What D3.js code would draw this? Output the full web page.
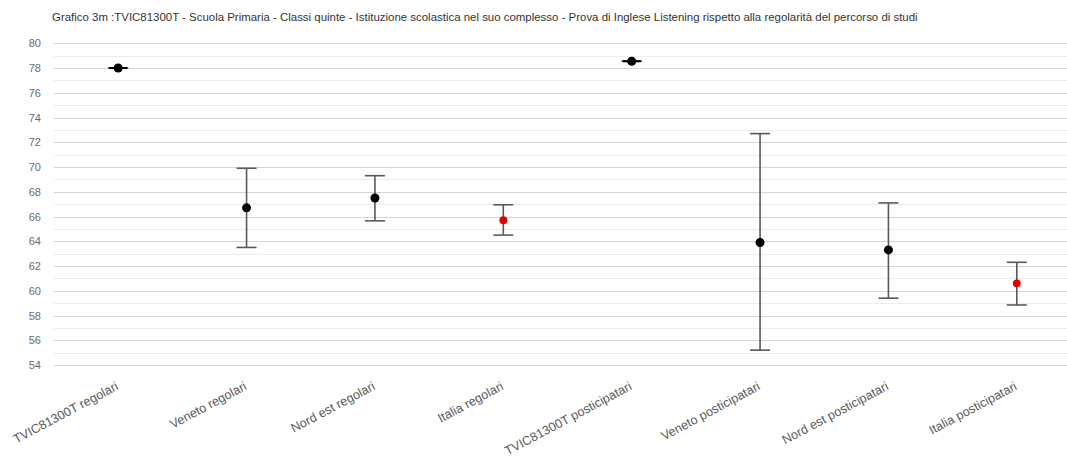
<!DOCTYPE html>
<html><head><meta charset="utf-8">
<script src="https://cdn.jsdelivr.net/npm/d3@7"></script>
<style>body{margin:0;background:#fff;} svg{display:block;font-family:"Liberation Sans",Arial,sans-serif;}</style>
</head><body>
<svg id="c" width="1067" height="458"></svg>
<script>
const title = "Grafico 3m :TVIC81300T - Scuola Primaria - Classi quinte - Istituzione scolastica nel suo complesso - Prova di Inglese Listening rispetto alla regolarità del percorso di studi";
const categories = ["TVIC81300T regolari","Veneto regolari","Nord est regolari","Italia regolari","TVIC81300T posticipatari","Veneto posticipatari","Nord est posticipatari","Italia posticipatari"];
const means = [78.0, 66.7, 67.5, 65.7, 78.55, 63.9, 63.3, 60.6];
const upper = [78.0, 69.9, 69.3, 66.95, 78.55, 72.7, 67.1, 62.3];
const lower = [78.0, 63.5, 65.65, 64.5, 78.55, 55.2, 59.4, 58.85];
const highlight = [false,false,false,true,false,false,false,true];
const yTicks = [54,56,58,60,62,64,66,68,70,72,74,76,78,80];
const yMinor = [55,57,59,61,63,65,67,69,71,73,75,77,79];

const rows = categories.map((c, i) => ({c, m: means[i], hi: upper[i], lo: lower[i], red: highlight[i]}));

const svg = d3.select("#c");
const pLeft = 54, pRight = 1081, pTop = 43.3, pBottom = 365;
const x = d3.scaleBand().domain(categories).range([pLeft, pRight]);
const y = d3.scaleLinear().domain([54, 80]).range([pBottom, pTop]);

svg.append("text").attr("x", 52).attr("y", 21).attr("font-size", 11.45).attr("fill", "#333")
  .text(title);

svg.append("g").selectAll("line").data(yMinor).join("line")
  .attr("x1", pLeft).attr("x2", pRight)
  .attr("y1", d => Math.round(y(d)) + 0.5).attr("y2", d => Math.round(y(d)) + 0.5)
  .attr("stroke", "#ededed").attr("stroke-width", 1);
svg.append("g").selectAll("line").data(yTicks).join("line")
  .attr("x1", pLeft).attr("x2", pRight)
  .attr("y1", d => Math.round(y(d)) + 0.5).attr("y2", d => Math.round(y(d)) + 0.5)
  .attr("stroke", "#d4d4d4").attr("stroke-width", 1);

const yAxis = d3.axisLeft(y).tickValues(yTicks).tickSize(0).tickPadding(0);
const ga = svg.append("g").attr("transform", `translate(41,0)`).call(yAxis);
ga.select(".domain").remove();
ga.selectAll("text").attr("font-size", 11).attr("fill", "#6b6b6b").attr("font-family", "Liberation Sans, Arial, sans-serif");

const cx = d => x(d) + x.bandwidth() / 2;
svg.append("g").selectAll("text").data(categories).join("text")
  .attr("transform", d => `translate(${cx(d) + 1},389) rotate(-28)`)
  .attr("text-anchor", "end").attr("font-size", 12.6).attr("fill", "#595959")
  .text(d => d);

const eb = svg.append("g").selectAll("g").data(rows).join("g");
const capW = 10;
eb.append("line").attr("x1", d => cx(d.c)).attr("x2", d => cx(d.c))
  .attr("y1", d => y(d.hi)).attr("y2", d => y(d.lo))
  .attr("stroke", "#595959").attr("stroke-width", 1.6);
eb.append("line").attr("x1", d => cx(d.c) - capW).attr("x2", d => cx(d.c) + capW)
  .attr("y1", d => y(d.hi)).attr("y2", d => y(d.hi))
  .attr("stroke", "#595959").attr("stroke-width", 1.6);
eb.append("line").attr("x1", d => cx(d.c) - capW).attr("x2", d => cx(d.c) + capW)
  .attr("y1", d => y(d.lo)).attr("y2", d => y(d.lo))
  .attr("stroke", "#595959").attr("stroke-width", 1.6);
eb.filter(d => d.hi === d.lo).append("line")
  .attr("x1", d => cx(d.c) - 9).attr("x2", d => cx(d.c) + 9)
  .attr("y1", d => y(d.m)).attr("y2", d => y(d.m))
  .attr("stroke", "#000").attr("stroke-width", 2);
eb.append("circle").attr("cx", d => cx(d.c)).attr("cy", d => y(d.m))
  .attr("r", d => d.red ? 3.9 : 4.5)
  .attr("fill", d => d.red ? "#e00000" : "#000");
</script>
</body></html>
